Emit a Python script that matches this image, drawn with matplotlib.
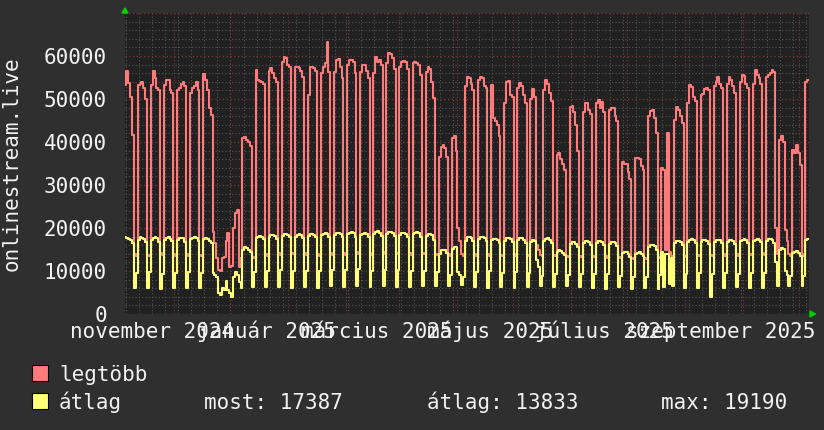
import datetime as dt
import numpy as np
import matplotlib
matplotlib.use("Agg")
import matplotlib.pyplot as plt
from matplotlib.patches import Rectangle, Polygon

# ---- data: daily values, one row per week ----
legtobb = [
    53300, 56500, 53800, 50500, 41600, 14000, 13600,
    53300, 53500, 54000, 52600, 50000, 13800, 13500,
    53300, 56500, 55000, 52500, 52000, 14200, 13700,
    53300, 54500, 54500, 52000, 51500, 13900, 13500,
    52000, 52500, 53500, 54000, 53000, 14000, 13600,
    51500, 52500, 53000, 54000, 52000, 13800, 13400,
    55800, 54500, 52000, 48000, 46300, 19000, 16500,
    13000, 10200, 10000, 13000, 13300, 17000, 18800,
    11000, 11200, 20000, 23500, 24200, 11000, 13000,
    41000, 41200, 40500, 40000, 39000, 13200, 13000,
    56700, 54500, 54200, 54000, 53500, 14000, 13600,
    56500, 57200, 56000, 55000, 54000, 14200, 13800,
    58500, 59800, 59500, 57800, 57400, 14300, 13900,
    57500, 57500, 57300, 56500, 55200, 14100, 13700,
    51000, 57500, 57500, 57200, 56500, 14000, 13600,
    56000, 57500, 58400, 63300, 56300, 14300, 13800,
    56300, 59000, 59200, 57500, 55000, 14200, 13800,
    58000, 59000, 59000, 58500, 56000, 14400, 14000,
    56300, 58000, 57800, 56500, 55000, 14100, 13700,
    56000, 59800, 58500, 59000, 58000, 14500, 14000,
    58300, 60700, 60500, 59500, 57000, 14300, 13900,
    57500, 58700, 58800, 58500, 57000, 14200, 13800,
    58400, 58500, 58300, 58000, 55600, 14300, 13900,
    56300, 57500, 57000, 54000, 50200, 14000, 13800,
    36600, 38800, 39300, 38500, 36500, 14000, 13600,
    41000, 41300, 38000, 20000, 17000, 14000, 13500,
    53000, 55200, 55000, 53500, 52000, 13900, 13500,
    54400, 55200, 55000, 53000, 52500, 14000, 13600,
    53300, 45500, 45000, 44000, 41500, 13800, 13500,
    49000, 54000, 54200, 51000, 50500, 13900, 13500,
    52500, 53700, 53000, 51000, 49000, 13800, 13400,
    50000, 52300, 50500, 16000, 15000, 13800, 13500,
    52000, 54500, 53500, 51500, 49500, 13700, 13400,
    37000, 37500, 36000, 35000, 33500, 13500, 13200,
    48200, 48400, 47000, 44000, 38000, 13600, 13300,
    47000, 49000, 49000, 47500, 46500, 13500, 13200,
    49000, 49800, 47900, 49200, 47000, 13400, 13100,
    47400, 48000, 47800, 46000, 45000, 13300, 13000,
    35400, 35000, 34800, 33000, 31500, 13000, 12800,
    36300, 36300, 36000, 34500, 33500, 13100, 12800,
    46000, 47200, 47400, 45500, 42000, 13300, 13000,
    33900, 33600, 15000, 42000, 14500, 13500, 13200,
    45100, 48200, 47500, 46000, 44500, 13600, 13300,
    49000, 53300, 52800, 50500, 49500, 13800, 13400,
    50900, 51200, 52300, 52600, 52000, 13700, 13400,
    53000, 54000, 55200, 53500, 52500, 13900, 13500,
    53600, 55200, 54500, 53000, 51500, 14000, 13600,
    54000, 55600, 55300, 53500, 52500, 14000, 13700,
    53500, 56700, 55500, 55000, 53500, 14100, 13700,
    55200, 55600, 56000, 56700, 56300, 20000, 14000,
    40500, 41400, 40000, 19500, 17000, 14000, 13600,
    38100, 37500, 39300, 37500, 34700, 14000, 13500,
    54000, 54400,
]

atlag = [
    18000, 17700, 17500, 17300, 16500, 6000, 9500,
    17300, 17800, 17700, 17500, 16800, 6000, 9800,
    17200, 17600, 17800, 17600, 16700, 5800, 9400,
    17300, 17700, 17800, 17500, 16900, 6000, 9600,
    17200, 17600, 17700, 17600, 16800, 6100, 9700,
    17400, 17700, 17900, 17700, 17000, 6000, 9500,
    17500, 17700, 17400, 17000, 16500, 9500, 9000,
    8600, 5000, 4500, 6000, 5500, 7700, 5500,
    5000, 4000, 8500, 9800, 9000, 7400, 6000,
    15000, 15600, 15300, 15000, 14400, 6300, 9800,
    17700, 18000, 18200, 18000, 17500, 6200, 10000,
    18000, 18300, 18400, 18200, 17500, 6300, 10200,
    18200, 18500, 18600, 18400, 17800, 6000, 10000,
    18000, 18400, 18500, 18300, 17700, 6200, 10100,
    18100, 18500, 18600, 18400, 17800, 6000, 10000,
    18300, 18700, 18800, 18600, 17900, 6500, 10300,
    18400, 18800, 18900, 18700, 18000, 6300, 10200,
    18500, 18900, 19000, 18800, 18000, 6500, 10400,
    18300, 18700, 18800, 18600, 17800, 6200, 10100,
    18600, 19000, 19190, 18900, 18200, 6500, 10300,
    18700, 19000, 19100, 18900, 18200, 6300, 10200,
    18400, 18800, 18900, 18700, 17900, 6200, 10000,
    18500, 18900, 19000, 18800, 18000, 6400, 10100,
    18200, 18600, 18700, 18300, 17200, 6500, 9800,
    14000, 14800, 15000, 14800, 14200, 6500, 9000,
    15200, 15600, 15500, 9800, 9000, 6700, 8500,
    17000, 17800, 17900, 17600, 17000, 6300, 9800,
    17400, 17900, 18000, 17700, 17000, 6000, 9900,
    17300, 17500, 17400, 17200, 16500, 6300, 9600,
    17000, 17600, 17700, 17400, 16800, 6000, 9700,
    17200, 17600, 17700, 17300, 16600, 6200, 9500,
    16800, 17300, 17000, 12500, 11000, 6500, 8800,
    17000, 17500, 17600, 17300, 16500, 6300, 9400,
    14500, 14800, 14700, 14300, 13800, 6500, 9000,
    16200, 16700, 16700, 16300, 15500, 6300, 9200,
    16500, 16900, 17000, 16800, 16000, 6000, 9300,
    16500, 16900, 17000, 16700, 16000, 5800, 9200,
    16300, 16700, 16800, 16500, 15800, 6300, 8800,
    14200, 14500, 14500, 14000, 13200, 5800, 8500,
    14000, 14300, 14400, 14000, 13500, 6000, 8600,
    15500, 16000, 16000, 15700, 15000, 5800, 9000,
    14500, 6300, 14000, 14000, 7000, 13000, 6500,
    16500, 17000, 17000, 16800, 16000, 6000, 9300,
    16800, 17300, 17400, 17100, 16500, 6000, 9500,
    16700, 17100, 17200, 17000, 16300, 4000, 9200,
    16800, 17200, 17300, 17100, 16500, 6000, 9500,
    16800, 17200, 17300, 17000, 16300, 6200, 9400,
    16900, 17300, 17400, 17100, 16500, 6000, 9500,
    17000, 17300, 17400, 17200, 16700, 6000, 9500,
    17000, 17400, 17500, 17300, 16600, 12000, 6500,
    15000, 15300, 15200, 10000, 9000, 6500, 8800,
    14200, 14500, 14600, 14300, 13500, 6500, 8800,
    17200, 17387,
]

series_names = ["legtöbb", "átlag"]
stat_texts = ["most: 17387", "átlag: 13833", "max: 19190"]
x_label_texts = ["november 2024", "január 2025", "március 2025",
                 "május 2025", "július 2025", "szeptember 2025"]
x_label_months = [(2024, 11), (2025, 1), (2025, 3), (2025, 5), (2025, 7), (2025, 9)]
y_ticks = [0, 10000, 20000, 30000, 40000, 50000, 60000]
y_title = "onlinestream.live"

# ---- style ----
BG = "#2f2f2f"
PLOT_BG = "#212121"
RED = "#ff7a7a"
YEL = "#ffff7a"
TXT = "#f2f2f2"
MINOR = "#555555"
MAJOR = "#7a3a3a"
GREEN = "#00d000"
FONT = "DejaVu Sans Mono"
FS = 15

W, H = 824, 430
fig = plt.figure(figsize=(W / 100, H / 100), dpi=100, facecolor=BG)

def fx(px):
    return px / W

def fy(py):
    return 1 - py / H

ax = fig.add_axes([fx(125), fy(314), fx(809) - fx(125), fy(13) - fy(314)])
ax.set_facecolor(PLOT_BG)

origin = dt.datetime(2024, 10, 5, 10, 0)

def day(t):
    return (t - origin).total_seconds() / 86400.0

n = len(legtobb)
xs = np.arange(n + 1)
ax.plot(xs, legtobb + [legtobb[-1]], drawstyle="steps-post", color=RED, lw=1.5, zorder=3)
ax.plot(xs, atlag + [atlag[-1]], drawstyle="steps-post", color=YEL, lw=1.5, zorder=4)

ax.set_xlim(0.2, 366.0)
ax.set_ylim(0, 70000)

# grid
month_starts = []
y, m = 2024, 11
while (y, m) <= (2025, 10):
    month_starts.append(day(dt.datetime(y, m, 1)))
    m += 1
    if m > 12:
        m = 1
        y += 1
sundays = []
t = dt.datetime(2024, 10, 6)
while day(t) < 366:
    sundays.append(day(t))
    t += dt.timedelta(days=7)

for d in sundays:
    ax.axvline(d, color=MINOR, lw=0.8, ls=(0, (1, 2)), zorder=1)
for d in month_starts:
    ax.axvline(d, color=MAJOR, lw=0.8, ls=(0, (1, 2)), zorder=1.5)
for v in range(2000, 70001, 2000):
    if v % 10000:
        ax.axhline(v, color=MINOR, lw=0.8, ls=(0, (1, 2)), zorder=1)
for v in range(0, 70001, 10000):
    ax.axhline(v, color=MAJOR, lw=0.9, ls=(0, (1, 2)), zorder=1.5)

for s in ax.spines.values():
    s.set_visible(False)
ax.set_xticks([])
ax.set_yticks(y_ticks)
ax.set_yticklabels([str(v) for v in y_ticks], fontsize=FS, family=FONT, color=TXT)
ax.tick_params(axis="y", length=0, pad=13)

# x labels
label_y = -(338.5 - 314) / (314 - 13)
for txt, (yy, mm) in zip(x_label_texts, x_label_months):
    pos = day(dt.datetime(yy, mm, 1)) - 12
    ax.text(pos, label_y, txt, transform=ax.get_xaxis_transform(), ha="center",
            va="baseline", fontsize=FS, family=FONT, color=TXT)

# y title
fig.text(fx(12), fy(164), y_title, rotation=90, ha="center", va="center",
         fontsize=FS, family=FONT, color=TXT)

# arrows
fig.patches.append(Polygon([[fx(122), fy(13)], [fx(128), fy(13)], [fx(125), fy(8)]],
                           closed=True, color=GREEN, transform=fig.transFigure))
fig.patches.append(Polygon([[fx(810), fy(311)], [fx(810), fy(317)], [fx(815.5), fy(314)]],
                           closed=True, color=GREEN, transform=fig.transFigure))

# legend
for (py0, col, name) in [(365, RED, series_names[0]), (393, YEL, series_names[1])]:
    fig.patches.append(Rectangle((fx(32), fy(py0 + 16)), fx(16), fy(py0) - fy(py0 + 16),
                                 facecolor=col, edgecolor="black", lw=0.8,
                                 transform=fig.transFigure))
    fig.text(fx(59), fy(py0 + 16), name, ha="left", va="baseline",
             fontsize=FS, family=FONT, color=TXT)

for txt, px in zip(stat_texts, [204, 427, 661]):
    fig.text(fx(px), fy(409), txt, ha="left", va="baseline",
             fontsize=FS, family=FONT, color=TXT)

fig.savefig("out.png", dpi=100, facecolor=BG)
